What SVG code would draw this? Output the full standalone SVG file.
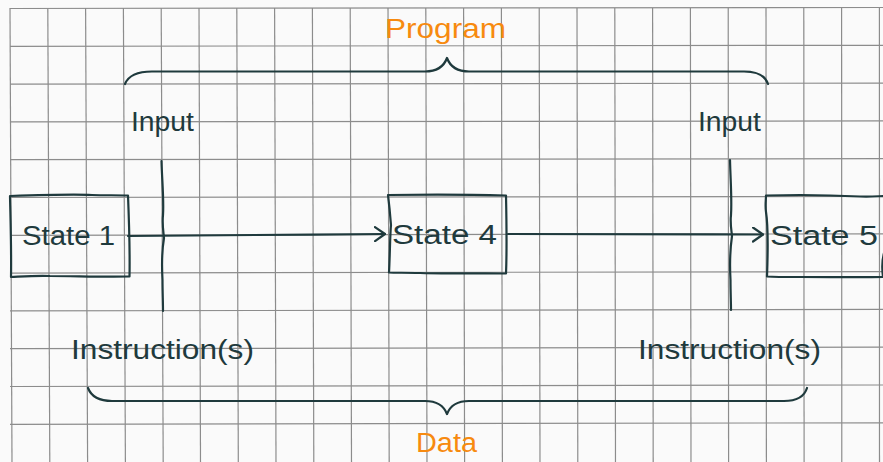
<svg xmlns="http://www.w3.org/2000/svg" width="883" height="462" viewBox="0 0 883 462">
  <style>
    .grid line { stroke: #8c8c8c; stroke-width: 1.2; }
    .ink { fill: none; stroke: #1f3a3d; stroke-width: 2.2; stroke-linecap: round; stroke-linejoin: round; }
    .lbl { font-family: "Liberation Sans", Arial, sans-serif; font-size: 27px; fill: #1f3a3d; }
    .title { font-family: "Liberation Sans", Arial, sans-serif; font-size: 27px; fill: #f78a0f; }
  </style>
  <defs>
    <marker id="chev" viewBox="0 0 12 16" refX="11" refY="8" markerWidth="12" markerHeight="16" markerUnits="userSpaceOnUse" orient="auto">
      <path d="M1,1 L11,8 L1,15" fill="none" stroke="#1f3a3d" stroke-width="2.2" stroke-linecap="round" stroke-linejoin="round"/>
    </marker>
  </defs>

  <rect width="883" height="462" fill="#fafafa"/>

  <!-- squared paper -->
  <g class="grid">
    <line x1="10" y1="8" x2="12" y2="462"/>
    <line x1="47.8" y1="8" x2="49.8" y2="462"/>
    <line x1="85.6" y1="8" x2="87.6" y2="462"/>
    <line x1="123.4" y1="8" x2="125.4" y2="462"/>
    <line x1="161.2" y1="8" x2="163.2" y2="462"/>
    <line x1="199" y1="8" x2="200.5" y2="462"/>
    <line x1="236.8" y1="8" x2="238.3" y2="462"/>
    <line x1="274.6" y1="8" x2="276" y2="462"/>
    <line x1="312.4" y1="8" x2="313.8" y2="462"/>
    <line x1="350.2" y1="8" x2="351.5" y2="462"/>
    <line x1="388" y1="8" x2="389.2" y2="462"/>
    <line x1="425.8" y1="8" x2="427" y2="462"/>
    <line x1="463.6" y1="8" x2="464.6" y2="462"/>
    <line x1="501.4" y1="8" x2="502.4" y2="462"/>
    <line x1="539.2" y1="8" x2="540" y2="462"/>
    <line x1="577" y1="8" x2="577.8" y2="462"/>
    <line x1="614.8" y1="8" x2="615.5" y2="462"/>
    <line x1="652.6" y1="8" x2="653.2" y2="462"/>
    <line x1="690.4" y1="8" x2="691" y2="462"/>
    <line x1="728.2" y1="8" x2="728.6" y2="462"/>
    <line x1="766" y1="8" x2="766.4" y2="462"/>
    <line x1="803.8" y1="8" x2="804.1" y2="462"/>
    <line x1="841.6" y1="8" x2="841.8" y2="462"/>
    <line x1="879.4" y1="8" x2="879.5" y2="462"/>

    <line x1="10" y1="8.5" x2="883" y2="7.5"/>
    <line x1="10" y1="46.3" x2="883" y2="45.3"/>
    <line x1="10" y1="84.1" x2="883" y2="83.1"/>
    <line x1="10" y1="121.9" x2="883" y2="120.9"/>
    <line x1="10" y1="159.7" x2="883" y2="158.7"/>
    <line x1="10" y1="197.5" x2="883" y2="196.5"/>
    <line x1="10" y1="235.3" x2="883" y2="233.8"/>
    <line x1="10" y1="273.1" x2="883" y2="271.6"/>
    <line x1="10" y1="310.9" x2="883" y2="309.4"/>
    <line x1="10" y1="348.7" x2="883" y2="347.2"/>
    <line x1="10" y1="386.5" x2="883" y2="385"/>
    <line x1="10" y1="424.3" x2="883" y2="422.8"/>
  </g>

  <!-- connectors -->
  <g id="connectors">
    <path class="ink" d="M128,236 C220,235.5 300,234.5 385,234" marker-end="url(#chev)"/>
    <path class="ink" d="M508,234 C600,234 680,234.5 763,234.5" marker-end="url(#chev)"/>
  </g>

  <!-- states -->
  <g id="state1">
    <path class="ink" d="M10,196 C40,195 75,194 92,195 C105,195.5 118,195 128,195.5 C129,220 130,250 129.5,276.5 C100,277 75,276 50,276 C35,275.5 22,276.5 11,277 C11.5,250 10.5,220 10,196 Z"/>
    <text class="lbl" x="22" y="245" textLength="93" lengthAdjust="spacingAndGlyphs">State 1</text>
  </g>
  <g id="state4">
    <path class="ink" d="M388,195 C420,194.5 470,194.5 506,195.5 C506.5,220 507,250 506,273.5 C480,273 440,274 420,273 C405,272.5 395,273 389,272.5 C390,255 390,235 391,225 C390,212 389,203 388,195 Z"/>
    <text class="lbl" x="392" y="244" textLength="105" lengthAdjust="spacingAndGlyphs">State 4</text>
  </g>
  <g id="state5">
    <path class="ink" d="M766,195.5 C800,194.5 840,195.5 860,196.5 C872,197 880,196 886,196 L885,250 C882,258 881.5,266 883,277 C860,277.5 830,277 800,277 C785,277 775,277 767,276.5 C768,250 768,225 766,212 C765,205 766,200 766,195.5 Z"/>
    <text class="lbl" x="770" y="245" textLength="108" lengthAdjust="spacingAndGlyphs">State 5</text>
  </g>

  <!-- input / instruction ticks -->
  <g id="tick-left">
    <path class="ink" d="M161.5,161 C162,180 164,200 163,215 C162,225 163.5,232 164,238 C162,250 161.5,262 162.5,280 C162.5,292 163,302 163,311"/>
  </g>
  <g id="tick-right">
    <path class="ink" d="M730,160 C730.5,180 732,200 731,215 C730,224 731.5,230 732,236 C730,250 729.5,262 730.5,280 C730.5,292 731,302 731,310"/>
  </g>

  <g id="input-left"><text class="lbl" x="131" y="131" textLength="63" lengthAdjust="spacingAndGlyphs">Input</text></g>
  <g id="input-right"><text class="lbl" x="698" y="131" textLength="63" lengthAdjust="spacingAndGlyphs">Input</text></g>
  <g id="instr-left"><text class="lbl" x="71" y="359" textLength="183" lengthAdjust="spacingAndGlyphs">Instruction(s)</text></g>
  <g id="instr-right"><text class="lbl" x="638" y="359" textLength="183" lengthAdjust="spacingAndGlyphs">Instruction(s)</text></g>

  <!-- braces -->
  <g id="program-brace">
    <path class="ink" d="M125,84 Q130,71.5 152,71.5 L425,71.5 Q442,71.5 447,58 Q452,71.5 469,71.5 L744,71.5 Q764,71.5 768,84"/>
    <text class="title" x="385" y="38" textLength="121" lengthAdjust="spacingAndGlyphs">Program</text>
  </g>
  <g id="data-brace">
    <path class="ink" d="M88,388 Q93,401 112,401 L425,401 Q442,401 447,414 Q452,401 469,401 L784,401 Q803,401 807,388"/>
    <text class="title" x="416" y="452" textLength="61" lengthAdjust="spacingAndGlyphs">Data</text>
  </g>
</svg>
